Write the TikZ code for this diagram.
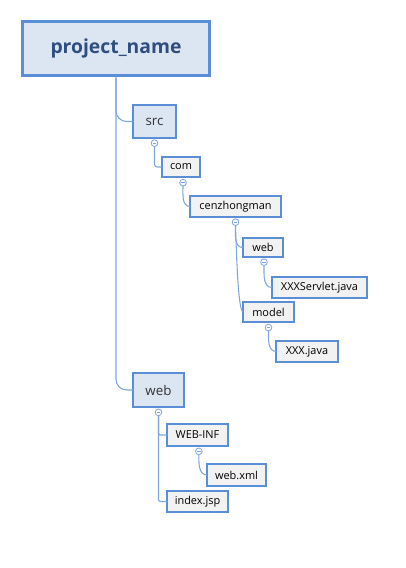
\documentclass[tikz,border=0pt]{standalone}
\usepackage{fontspec}
\setmainfont{Open Sans}
\usepackage{xcolor}
\definecolor{colBorder}{HTML}{5A8ED6}
\definecolor{colTop}{HTML}{DCE6F2}
\definecolor{colLeaf}{HTML}{F2F2F2}
\definecolor{colLine}{HTML}{7FA7DF}
\definecolor{colTitle}{HTML}{2F4D7E}
\usepackage{tikz}
\usetikzlibrary{positioning}

\begin{document}
\begin{tikzpicture}[
		x=0.75pt, y=-0.75pt,
		dir/.style={draw=colBorder, line width=1.5pt, fill=colTop, inner sep=0pt, outer sep=0pt, font=\fontsize{10}{12}\selectfont, text=black!80},
		leaf/.style={draw=colBorder, line width=1.5pt, fill=colLeaf, inner sep=0pt, outer sep=0pt, minimum height=15.5pt, font=\fontsize{8.2}{10}\selectfont},
		toggle/.style={circle, draw=colLine, line width=0.6pt, fill=white, minimum size=5pt, inner sep=0pt, outer sep=0pt,
			path picture={\draw[colLine, line width=0.5pt] ([xshift=-1.4pt]path picture bounding box.center) -- ([xshift=1.4pt]path picture bounding box.center);}},
		conn/.style={colLine, line width=0.8pt}
	]
		\useasboundingbox (0,0) rectangle (405,568);

		% ===== Root =====
		\node[draw=colBorder, line width=2.4pt, fill=colTop, minimum width=140pt, minimum height=41pt,
			  font=\fontsize{14.5}{17}\selectfont\bfseries, text=colTitle] (root) at (116, 48.5) {project\_name};

		% ===== src branch =====
		\node[dir, minimum width=32pt, minimum height=24.5pt] (src) at (154.5, 121.5) {src};
		\node[toggle, below=1.5pt of src] (srcT) {};

		\node[leaf, minimum width=29pt] (com) at (181, 167) {com};
		\node[toggle, below=1.5pt of com, xshift=1.5pt] (comT) {};

		\node[leaf, minimum width=68pt] (cenz) at (235.5, 206.5) {cenzhongman};
		\node[toggle, below=1.5pt of cenz] (cenzT) {};

		\node[leaf, minimum width=30pt, minimum height=14pt] (webpkg) at (263, 247.5) {web};
		\node[toggle, below=1.5pt of webpkg, xshift=0.75pt] (webpkgT) {};
		\node[leaf, minimum width=71pt] (servlet) at (319.5, 287.5) {XXXServlet.java};

		\node[leaf, minimum width=38pt] (model) at (268.5, 312) {model};
		\node[toggle, below=1.5pt of model] (modelT) {};
		\node[leaf, minimum width=46pt] (xxx) at (307, 351.5) {XXX.java};

		% ===== web branch =====
		\node[dir, minimum width=38pt, minimum height=25.5pt] (web) at (158.5, 390) {web};
		\node[toggle, below=1.5pt of web] (webT) {};

		\node[leaf, minimum width=45.5pt, minimum height=16.5pt] (webinf) at (197.5, 435) {WEB-INF};
		\node[toggle, below=1.5pt of webinf, xshift=1pt] (webinfT) {};
		\node[leaf, minimum width=44pt, minimum height=16.5pt] (webxml) at (236.5, 475) {web.xml};

		\node[leaf, minimum width=45.5pt] (index) at (197.5, 501.5) {index.jsp};

		% ===== Connectors =====
		\draw[conn, rounded corners=8pt] (root.south) |- (src.west);
		\draw[conn, rounded corners=8pt] (root.south) |- (web.west);

		\draw[conn, rounded corners=2pt] (srcT.south) |- (com.west);
		\draw[conn] (comT.south) to[out=-90, in=180] (cenz.west);
		\draw[conn] (cenzT.south) to[out=-90, in=180] (webpkg.west);
		\draw[conn] (cenzT.south) to[out=-88, in=180, out looseness=0.8, in looseness=0.15] (model.west);
		\draw[conn] (webpkgT.south) to[out=-90, in=180] (servlet.west);
		\draw[conn] (modelT.south) to[out=-90, in=180] (xxx.west);

		\draw[conn, rounded corners=1pt] (webT.south) |- (webinf.west);
		\draw[conn, rounded corners=1pt] (webT.south) |- (index.west);
		\draw[conn] (webinfT.south) to[out=-90, in=180] (webxml.west);
	\end{tikzpicture}
\end{document}
